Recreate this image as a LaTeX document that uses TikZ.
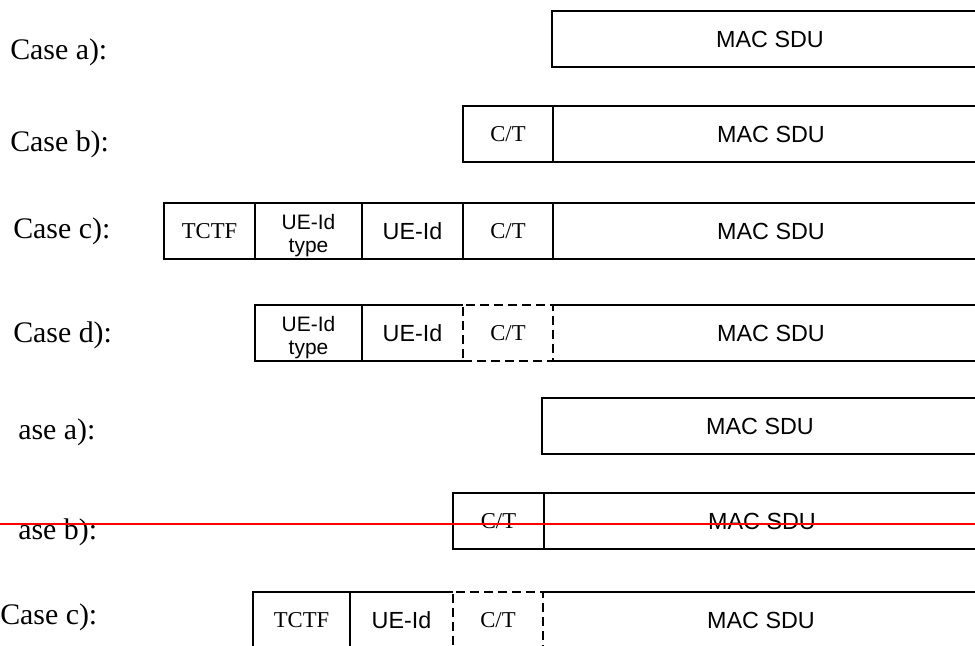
\documentclass[tikz,border=0pt]{standalone}
\usepackage{fontspec}
\setmainfont{Liberation Serif}
\setsansfont{Liberation Sans}
\usetikzlibrary{positioning}

\begin{document}
\begin{tikzpicture}[
  x=0.75pt, y=-0.75pt,
  field/.style={anchor=north west, inner sep=0pt, outer sep=0pt, minimum height=42pt},
  ser/.style={font=\fontsize{17}{20}\selectfont},
  san/.style={font=\sffamily\fontsize{17.5}{20}\selectfont},
  twoline/.style={align=center, inner sep=0pt, yshift=-3.5pt, font=\sffamily\fontsize{15.7}{17.3}\selectfont},
  sdu/.style={field, san, minimum width=327pt},
  caselbl/.style={anchor=base west, inner sep=0pt, font=\fontsize{22.4}{25}\selectfont},
  box/.style={draw, line width=1.5pt},
  dbox/.style={draw, line width=1.5pt, dash pattern=on 6.5pt off 4pt}
]
\useasboundingbox (0,0) rectangle (975,646);
\clip (0,0) rectangle (975,646);

% case a
\node[caselbl] (lblA) at (10,59) {Case a):};
\node[sdu, box] (sduA) at (552,11) {MAC SDU};

% case b
\node[caselbl] (lblB) at (10,151) {Case b):};
\node[field, ser, box, minimum width=67.5pt] (ctB) at (463,106) {C/T};
\node[sdu, box, right=0pt of ctB] (sduB) {MAC SDU};

% case c
\node[caselbl] (lblC) at (13,238) {Case c):};
\node[field, ser, box, minimum width=68.25pt] (tctfC) at (164,203) {TCTF};
\node[field, box, minimum width=80.25pt, right=0pt of tctfC,
  label={[twoline]center:UE-Id\\type}] (typeC) {};
\node[field, san, box, minimum width=75.75pt, right=0pt of typeC] (ueC) {UE-Id};
\node[field, ser, box, minimum width=67.5pt, right=0pt of ueC] (ctC) {C/T};
\node[sdu, box, right=0pt of ctC] (sduC) {MAC SDU};

% case d
\node[caselbl] (lblD) at (13,342) {Case d):};
\node[field, box, minimum width=80.25pt,
  label={[twoline]center:UE-Id\\type}] (typeD) at (255,305) {};
\node[field, san, minimum width=75.75pt, right=0pt of typeD] (ueD) {UE-Id};
\node[field, ser, dbox, minimum width=67.5pt, right=0pt of ueD] (ctD) {C/T};
\node[sdu, right=0pt of ctD] (sduD) {MAC SDU};
\draw[box] (ueD.north east) -- (ueD.north west) -- (ueD.south west) -- (ueD.south east);
\draw[box] (sduD.north west) -- (sduD.north east) -- (sduD.south east) -- (sduD.south west);

% second set
\node[caselbl] (lblE) at (18,439) {ase a):};
\node[sdu, box] (sduE) at (542,398) {MAC SDU};

\node[caselbl] (lblF) at (18,539) {ase b):};
\node[field, ser, box, minimum width=68.25pt] (ctF) at (453,493) {C/T};
\node[sdu, box, right=0pt of ctF] (sduF) {MAC SDU};

\node[caselbl] (lblG) at (0,624) {Case c):};
\node[field, ser, box, minimum width=72.75pt] (tctfG) at (253,592) {TCTF};
\node[field, san, minimum width=77.25pt, right=0pt of tctfG] (ueG) {UE-Id};
\node[field, ser, dbox, minimum width=67.5pt, right=0pt of ueG] (ctG) {C/T};
\node[sdu, right=0pt of ctG] (sduG) {MAC SDU};
\draw[box] (ueG.north east) -- (ueG.north west) -- (ueG.south west) -- (ueG.south east);
\draw[box] (sduG.north west) -- (sduG.north east) -- (sduG.south east) -- (sduG.south west);

% red line
\coordinate (redL) at (0,524);
\coordinate (redR) at (975,524);
\draw[red, line width=1.6pt] (redL) -- (redR);
\end{tikzpicture}
\end{document}
